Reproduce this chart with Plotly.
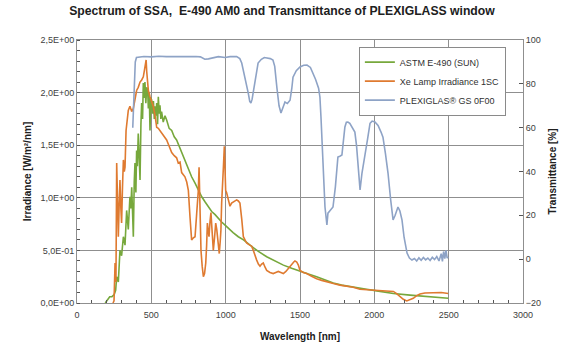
import plotly.graph_objects as go
from plotly.subplots import make_subplots

# ---------------- data ----------------
sun_wl = [190, 205, 220, 235, 250, 260, 267, 278, 289, 300, 312, 323, 334, 345, 356, 362, 368, 374, 379,
          385, 390, 396, 401, 406, 412, 418, 424, 430, 435, 441, 446, 452, 457, 463, 469, 475, 480, 486,
          491, 497, 502, 508, 514, 520, 525, 531, 536, 542, 547, 553, 558, 564, 569, 580, 592, 603, 620,
          637, 654, 670, 693, 704, 726, 749, 771, 794, 816, 839, 862, 884, 906, 929, 951, 973, 996, 1018,
          1050, 1085, 1120, 1164, 1220, 1276, 1330, 1388, 1444, 1500, 1556, 1612, 1668, 1724, 1780, 1836,
          1892, 1948, 2016, 2128, 2240, 2352, 2420, 2497]
sun_irr = [0.0, 0.03, 0.06, 0.06, 0.08, 0.12, 0.25, 0.20, 0.50, 0.45, 0.63, 0.55, 0.88, 0.70, 1.01, 0.90,
           1.10, 0.85, 0.63, 1.15, 1.33, 1.05, 1.45, 1.30, 1.61, 1.40, 1.17, 1.70, 1.90, 1.75, 2.09, 1.95,
           2.10, 1.90, 2.05, 2.02, 1.85, 2.00, 1.64, 1.95, 1.93, 1.80, 1.92, 1.75, 1.87, 1.78, 1.90, 1.70,
           1.96, 1.80, 1.88, 1.75, 1.82, 1.72, 1.78, 1.74, 1.66, 1.64, 1.58, 1.55, 1.47, 1.43, 1.35, 1.26,
           1.20, 1.14, 1.07, 1.01, 0.96, 0.91, 0.87, 0.84, 0.80, 0.77, 0.74, 0.71, 0.67, 0.63, 0.60, 0.55,
           0.49, 0.44, 0.40, 0.36, 0.33, 0.30, 0.275, 0.25, 0.22, 0.19, 0.17, 0.155, 0.14, 0.13, 0.115,
           0.09, 0.075, 0.06, 0.052, 0.045]

xe_wl = [242, 249, 256, 262, 267, 272, 278, 284, 289, 295, 300, 306, 312, 318, 323, 330, 337, 345, 356,
         362, 368, 379, 390, 401, 412, 424, 435, 446, 452, 458, 465, 469, 475, 480, 491, 502, 513, 525,
         536, 547, 558, 580, 603, 620, 637, 654, 670, 681, 693, 704, 715, 726, 738, 749, 760, 771, 783,
         794, 805, 816, 821, 827, 834, 842, 850, 858, 866, 872, 877, 883, 888, 895, 901, 908, 917, 925,
         933, 940, 946, 952, 957, 963, 968, 973, 978, 985, 991, 996, 1000, 1006, 1013, 1020, 1029, 1040,
         1051, 1063, 1074, 1085, 1096, 1108, 1119, 1130, 1141, 1152, 1164, 1175, 1186, 1197, 1208, 1220,
         1231, 1242, 1253, 1265, 1276, 1298, 1320, 1337, 1354, 1371, 1388, 1405, 1421, 1444, 1458, 1466,
         1478, 1489, 1500, 1522, 1545, 1578, 1612, 1646, 1680, 1724, 1769, 1813, 1858, 1903, 1948, 2016,
         2072, 2128, 2150, 2172, 2195, 2218, 2240, 2262, 2285, 2307, 2340, 2397, 2450, 2497]
xe_irr = [0.0, 0.02, 0.38, 0.20, 1.33, 0.90, 0.63, 0.95, 1.17, 0.90, 0.76, 1.10, 1.36, 1.25, 1.29, 1.64,
          1.72, 1.83, 1.87, 1.84, 1.82, 1.85, 1.95, 2.02, 2.05, 2.10, 2.12, 2.15, 2.20, 2.25, 2.31, 2.20,
          2.10, 2.02, 1.96, 1.92, 1.87, 1.78, 1.67, 1.66, 1.64, 1.60, 1.55, 1.49, 1.43, 1.40, 1.38, 1.33,
          1.34, 1.24, 1.22, 1.20, 1.15, 1.07, 0.82, 0.60, 0.62, 0.63, 0.85, 1.07, 1.29, 0.85, 0.50, 0.35,
          0.25, 0.28, 0.38, 0.55, 0.76, 0.68, 0.63, 0.78, 0.86, 0.70, 0.50, 0.62, 0.76, 0.70, 0.63, 0.55,
          0.47, 0.58, 0.69, 0.95, 1.20, 1.30, 1.49, 1.25, 1.07, 1.05, 1.01, 0.95, 0.92, 0.95, 0.96, 0.97,
          0.98, 0.97, 0.95, 0.80, 0.63, 0.60, 0.57, 0.56, 0.55, 0.54, 0.50, 0.45, 0.41, 0.37, 0.35, 0.37,
          0.38, 0.34, 0.31, 0.29, 0.28, 0.29, 0.30, 0.29, 0.28, 0.30, 0.33, 0.37, 0.39, 0.40, 0.39, 0.36,
          0.31, 0.29, 0.28, 0.255, 0.23, 0.215, 0.20, 0.185, 0.17, 0.16, 0.15, 0.13, 0.125, 0.12, 0.115,
          0.11, 0.09, 0.06, 0.035, 0.02, 0.03, 0.045, 0.07, 0.086, 0.095, 0.10, 0.10, 0.09]

pmma_wl = [375, 380, 386, 392, 400, 450, 500, 550, 600, 650, 700, 750, 800, 830, 860, 884, 906, 930, 951,
           996, 1030, 1074, 1095, 1108, 1120, 1130, 1141, 1152, 1162, 1170, 1178, 1186, 1197, 1208, 1218,
           1240, 1260, 1278, 1300, 1318, 1330, 1345, 1359, 1372, 1385, 1399, 1415, 1433, 1445, 1453, 1475,
           1500, 1525, 1547, 1570, 1587, 1605, 1625, 1634, 1641, 1648, 1658, 1668, 1681, 1688, 1700, 1722,
           1738, 1755, 1768, 1782, 1792, 1802, 1812, 1822, 1835, 1850, 1869, 1880, 1890, 1904, 1917, 1927,
           1937, 1955, 1971, 1985, 2004, 2025, 2045, 2058, 2075, 2092, 2110, 2126, 2140, 2159, 2172, 2186,
           2200, 2220, 2236, 2253, 2270, 2285, 2300, 2315, 2330, 2345, 2360, 2375, 2390, 2405, 2420, 2435,
           2450, 2458, 2466, 2474, 2482, 2490, 2497]
pmma_t = [60, 72, 84, 90, 92, 92.5, 92.3, 92.6, 92.4, 92.5, 92.6, 92.7, 92.5, 92.3, 91.2, 91.4, 91.8, 92.3,
          92.4, 92.0, 92.4, 92.4, 91.5, 89.5, 86, 83, 79, 75.8, 72, 71.3, 73, 76, 81.7, 86, 89.5, 91.2, 92,
          91.8, 91.5, 90.9, 88, 78, 70, 66.7, 69, 71.7, 71, 72.5, 78, 83, 86, 87.7, 88.5, 88.6, 87.5, 85, 82,
          78, 74, 65, 54, 38, 23.8, 15.6, 21, 22, 23.8, 33, 46.6, 47, 47.5, 54, 60.3, 62.5, 62.6, 62, 60,
          58, 52, 42, 31.6, 39.3, 43, 47.5, 55, 62, 63, 62.6, 61, 58, 55.7, 48, 39.3, 27, 17.9, 20, 23.8,
          22, 17.9, 10, 2.8, 0.5, -0.4, 0.3, -0.8, 0.6, -0.5, 0.8, -0.3, 0.5, -0.6, 0.9, -0.2, 1.2, -0.8,
          2.5, -1.0, 3.5, 0.2, 4.0, 0.5, 1.0]

irr_ticks = [0, 0.5, 1.0, 1.5, 2.0, 2.5]
irr_labels = ["0,0E+00", "5,0E-01", "1,0E+00", "1,5E+00", "2,0E+00", "2,5E+00"]

# ---------------- figure ----------------
GREEN = "#77a83c"
ORANGE = "#df7a30"
BLUE = "#8ea3c6"
GRID = "#8f8f8f"
FONT = "Liberation Sans"

fig = make_subplots(specs=[[{"secondary_y": True}]])
fig.add_trace(go.Scatter(x=sun_wl, y=sun_irr, mode="lines", name="ASTM E-490 (SUN)",
                         line=dict(color=GREEN, width=1.6)), secondary_y=False)
fig.add_trace(go.Scatter(x=xe_wl, y=xe_irr, mode="lines", name="Xe Lamp Irradiance 1SC",
                         line=dict(color=ORANGE, width=1.6)), secondary_y=False)
fig.add_trace(go.Scatter(x=pmma_wl, y=pmma_t, mode="lines", name="PLEXIGLAS® GS 0F00",
                         line=dict(color=BLUE, width=1.6)), secondary_y=True)

fig.update_layout(
    width=565, height=343,
    margin=dict(l=77, r=42, t=40, b=40, autoexpand=False),
    paper_bgcolor="white", plot_bgcolor="white",
    font=dict(family=FONT, size=9, color="#404040"),
    title=dict(text="<b>Spectrum of SSA,  E-490 AM0 and Transmittance of PLEXIGLASS window</b>",
               x=282 / 565, xanchor="center", xref="container",
               y=1 - 11 / 343, yanchor="middle", yref="container",
               font=dict(family=FONT, size=12.2, color="#202020")),
    showlegend=True,
    legend=dict(x=0.632, y=0.975, xanchor="left", yanchor="top",
                bgcolor="white", bordercolor="#8a8a8a", borderwidth=1,
                font=dict(family=FONT, size=9, color="#303030"),
                itemwidth=30, tracegroupgap=0),
)

fig.update_xaxes(
    domain=[0, 1],
    range=[0, 3000], dtick=500, tick0=0,
    showgrid=True, gridcolor=GRID, gridwidth=1,
    showline=True, linecolor=GRID, linewidth=1, mirror=True,
    ticks="", zeroline=False, ticklabelstandoff=3,
    minor=dict(dtick=100, ticks="inside", ticklen=3, tickcolor="#555", showgrid=False),
    title=dict(text="<b>Wavelength [nm]</b>", font=dict(family=FONT, size=10, color="#202020"), standoff=14),
)
fig.update_yaxes(
    range=[0, 2.5], tickvals=irr_ticks, ticktext=irr_labels,
    showgrid=True, gridcolor=GRID, gridwidth=1,
    showline=True, linecolor=GRID, linewidth=1, mirror=True,
    ticks="", zeroline=False,
    minor=dict(dtick=0.1, ticks="inside", ticklen=3, tickcolor="#555", showgrid=False),
    title=dict(text="<b>Irradiance [W/m²/nm]</b>", font=dict(family=FONT, size=10, color="#202020"), standoff=6),
    secondary_y=False,
)
fig.update_yaxes(
    range=[-20, 100], dtick=20, tick0=-20,
    showgrid=False, showline=True, linecolor=GRID, linewidth=1,
    ticks="inside", ticklen=4, tickcolor="#555", zeroline=False,
    title=dict(text="<b>Transmittance [%]</b>", font=dict(family=FONT, size=10, color="#202020"), standoff=8),
    secondary_y=True,
)

fig.write_html("out.html", config={"displayModeBar": False},
               post_script="document.body.style.margin='0';")
